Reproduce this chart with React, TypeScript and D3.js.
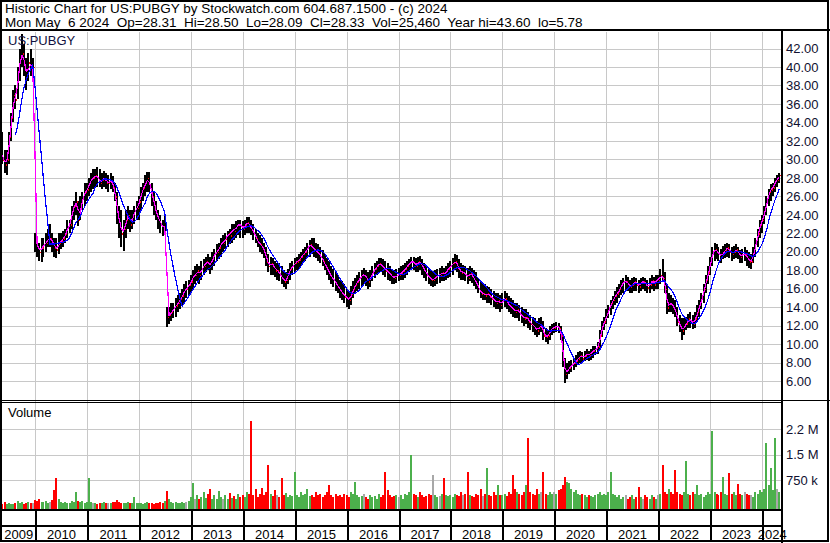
import * as d3 from 'd3';
import { useEffect, useRef } from 'react';

const TITLE = 'Historic Chart for US:PUBGY by Stockwatch.com 604.687.1500 - (c) 2024';
const SUBTITLE =
  'Mon May  6 2024  Op=28.31  Hi=28.50  Lo=28.09  Cl=28.33  Vol=25,460  Year hi=43.60  lo=5.78';
const SYMBOL = 'US:PUBGY';

// one bar per half month (1st and 16th), starting May 1 2009
const FIRST_YEAR = 2009;
const FIRST_MONTH = 4;

// prettier-ignore
const high = [
  33, 33, 31, 31, 33, 35, 37.5, 38, 40, 42, 43.6, 42.5, 41, 41.5, 42, 41,
  22, 21.5, 21, 21.5, 21.5, 22, 22.5, 23, 22, 21.5, 21.5, 22, 22, 22.3, 22.5, 23.5, 23.5, 25, 25.5, 26.5, 25.5, 26, 26.5, 27.5,
  27.5, 28, 28.5, 29, 29, 29.2, 29, 28.5, 28.7, 28.5, 28.3, 28.5, 28.2, 27.5, 26.5, 25, 24.5, 23.5, 24.5, 25, 24.5, 24.5, 25, 25.5,
  26, 27, 27.5, 28.3, 28.6, 28.6, 27.5, 26.5, 25.5, 24.5, 24, 23.5, 24, 14, 14, 14.5, 14.5, 15, 15.3, 15.5, 16, 16.5, 16.8, 17,
  17.5, 18, 18.5, 18.7, 18.5, 19, 19.2, 19.5, 19.8, 19.5, 20, 20.3, 20.8, 21, 21.5, 21.8, 22, 22.3, 22.5, 23, 23, 23.3, 23.5, 23.5,
  23.3, 23.5, 23.8, 23.8, 23.5, 23, 22.5, 22, 21.8, 21.5, 21, 20.5, 19.8, 19.5, 19.3, 19, 18.8, 18.8, 18.5, 18, 17.8, 18.2, 18.8, 19,
  19.3, 19.5, 19.8, 20, 20.3, 20.5, 21, 21.3, 21.5, 21.5, 21, 20.8, 20.5, 20.2, 19.8, 19.3, 19, 18.5, 18.2, 17.8, 17.5, 17, 16.8, 16.5,
  16, 15.8, 16.3, 16.8, 17.2, 17.5, 17.8, 18, 18.3, 18, 17.8, 18, 18.5, 18.8, 19, 19.3, 19.3, 19.2, 19, 18.8, 18.5, 18.2, 18, 18.2,
  18.3, 18.5, 18.6, 18.8, 19, 19.2, 19.5, 19.5, 19.3, 19.5, 19.6, 19.2, 18.8, 18.5, 18.2, 18, 17.8, 18, 18.2, 18.3, 18.5, 18.3, 18.5, 18.8,
  19, 19.3, 19.8, 19.7, 19.2, 18.8, 18.6, 18.5, 18.3, 18.5, 18.3, 18, 17.8, 17.2, 16.8, 16.5, 16.5, 16.3, 16.2, 16, 15.8, 15.5, 15.5, 15.3,
  15.5, 15.8, 15.5, 15.2, 15, 14.8, 14.5, 14.5, 14.3, 14, 13.8, 13.8, 13.5, 13.2, 13, 12.8, 12.5, 12.8, 13, 12.5, 11.8, 11.5, 12, 12.2,
  12.3, 12.4, 12.3, 12, 11, 8.5, 8, 8.2, 8.3, 8.5, 8.8, 9.2, 9.3, 9.2, 9.3, 9.5, 9.3, 9.5, 9.8, 9.8, 10.2, 11.5, 12.5, 13,
  13.8, 14.2, 14.8, 15.2, 15.8, 16.2, 16.5, 17, 17.2, 17.5, 17.3, 17, 17.2, 17.3, 17.2, 17, 17.2, 17.3, 17.2, 17, 17.2, 17.5, 17.3, 17.5,
  17.5, 18.2, 19.2, 17.8, 16.5, 15.5, 15.3, 15, 14.8, 14, 13.2, 12.8, 12.8, 13, 13.3, 13.5, 13.2, 13.5, 14.2, 14.8, 15.5, 16.5, 17.5, 18.5,
  19.5, 20.5, 21, 20.8, 20.5, 20.3, 20.6, 20.8, 21, 20.8, 20.5, 20.6, 20.8, 20.5, 20.2, 20.3, 20.5, 20.2, 20, 19.8, 20.5, 21.5, 22.5, 23.5,
  24, 25, 26, 26.8, 27.3, 27.5, 28, 28.3, 28.5,
];

// prettier-ignore
const low = [
  30, 29.5, 28.5, 28.3, 29.5, 32, 34, 35.5, 36.5, 38.5, 40, 39, 37.5, 38.5, 39, 38.5,
  20, 19.5, 19, 18.9, 19.5, 20, 20.5, 20.5, 20, 19.5, 19.3, 19.8, 20.3, 20.5, 21, 21.5, 22, 22.5, 23.5, 24, 22.8, 23.5, 24.5, 25,
  25.5, 26, 26.5, 26.8, 27, 27, 27, 26.8, 27, 26.8, 26.5, 26.8, 26.5, 25.5, 23, 21.5, 20.5, 20.1, 21.5, 22.5, 22.2, 22.5, 23, 23.5,
  23.5, 24.5, 25.5, 26, 26.5, 26.5, 25, 24, 23.5, 22.5, 22, 21.7, 22, 11.9, 12.2, 12.5, 12.8, 13, 13.5, 13.8, 14.2, 14.5, 15, 15.2,
  15.5, 16, 16.5, 16.8, 16.5, 17, 17.5, 17.8, 18, 17.6, 18, 18.5, 19, 19.2, 19.5, 20, 20.3, 20.5, 20.8, 21, 21.3, 21.5, 21.8, 21.5,
  21.5, 21.8, 22, 22, 21.8, 21.3, 21, 20.5, 20, 19.8, 19.3, 18.5, 17.8, 17.5, 17.5, 17.3, 17, 16.8, 16.5, 16.2, 16, 16.5, 17, 17.5,
  17.8, 18, 18.2, 18.5, 18.8, 19, 19.3, 19.5, 19.8, 19.5, 19.3, 19, 18.8, 18.5, 18, 17.5, 17, 16.5, 16.2, 15.8, 15.5, 15, 14.8, 14.5,
  14, 13.8, 14.3, 15, 15.5, 15.8, 16, 16.3, 16.5, 16.3, 16, 16.2, 16.8, 17.2, 17.5, 17.8, 17.8, 17.5, 17.3, 17, 16.8, 16.5, 16.5, 16.6,
  16.8, 17, 17, 17.2, 17.5, 17.8, 18, 18, 17.8, 17.8, 18, 17.5, 17.2, 16.8, 16.5, 16.3, 16.2, 16.3, 16.5, 16.6, 16.8, 16.8, 17, 17.2,
  17.3, 17.5, 18, 17.8, 17.2, 17, 17, 16.8, 16.5, 16.8, 16.6, 16.3, 16, 15.5, 15, 14.8, 14.8, 14.5, 14.5, 14.3, 14, 13.8, 13.8, 13.5,
  13.8, 14, 13.8, 13.5, 13.3, 13, 12.8, 12.8, 12.5, 12.3, 12, 12.2, 11.8, 11.5, 11.3, 11, 10.8, 11, 11.3, 10.5, 10.2, 10, 10.5, 11,
  11.2, 11.3, 11.2, 10.5, 7.5, 5.78, 6.3, 6.8, 7, 7.2, 7.5, 7.8, 8, 8, 8.2, 8.3, 8.2, 8.3, 8.5, 8.8, 9, 9.5, 10.8, 11.5,
  12.2, 12.8, 13.2, 13.8, 14.2, 14.5, 15, 15.3, 15.5, 15.8, 15.8, 15.5, 15.6, 15.8, 15.8, 15.5, 15.8, 16, 15.8, 15.5, 15.6, 16, 15.8, 16,
  16, 16.5, 16.8, 15.5, 13.3, 13.5, 13.5, 13.3, 13, 12, 11.3, 10.5, 11, 11.5, 11.8, 11.8, 11.7, 11.8, 12.5, 13, 13.8, 14.5, 15.5, 16.5,
  17.5, 18.5, 19, 19.2, 19, 18.8, 19.2, 19.3, 19.5, 19.3, 19, 19.2, 19.3, 19.2, 18.8, 18.8, 19, 18.5, 18.3, 18.2, 18.8, 19.5, 20.5, 21.5,
  22, 23, 24, 25, 25.5, 26, 26.5, 27, 27.5,
];

// prettier-ignore
const close = [
  31, 30, 29.5, 30, 32.5, 34.5, 37, 36.5, 39.5, 41, 41.5, 40, 39, 40.5, 40, 40,
  21, 20.5, 20, 20.5, 20.8, 21, 21.5, 21.5, 21, 20.5, 20.3, 21, 21.2, 21.5, 22, 22.8, 23, 24.5, 25, 25.5, 23.5, 25, 26, 26.5,
  26.8, 27.5, 28, 28, 28.3, 28, 27.5, 27.8, 28, 27.5, 27.5, 27.8, 27, 26, 24, 23, 22, 22.5, 23.5, 24, 23, 23.8, 24.5, 24.8,
  25.5, 26.5, 27, 27.5, 28, 27, 26, 25, 24, 23.5, 23, 22.5, 23, 13, 13.2, 13.5, 14, 14.2, 14.5, 15, 15.3, 16, 16, 16.5,
  16.8, 17.5, 17.5, 18, 17.5, 18.3, 18.5, 19, 18.8, 18.5, 19.5, 19.8, 20, 20.5, 21, 21, 21.5, 22, 21.8, 22.5, 22.3, 22.8, 23, 22.8,
  22.5, 23, 23.2, 22.8, 22.5, 22, 21.5, 21, 20.8, 20.5, 20, 19, 18.5, 18.8, 18.5, 18, 18, 17.5, 17.2, 16.8, 17, 17.8, 18.2, 18.5,
  18.8, 19, 19.2, 19.5, 19.8, 20, 20.5, 20.8, 20.5, 20.3, 20, 19.8, 19.5, 19, 18.5, 18.2, 17.5, 17.2, 17, 16.5, 16.2, 15.8, 15.5, 15.2,
  15, 14.8, 15.5, 16, 16.5, 16.8, 17.2, 17.5, 17.5, 17.2, 16.8, 17.3, 17.8, 18.2, 18.5, 18.8, 18.5, 18.3, 18, 17.8, 17.5, 17.3, 17.2, 17.5,
  17.5, 17.8, 18, 18.2, 18.5, 18.8, 19, 18.8, 18.5, 19, 18.8, 18.3, 18, 17.5, 17.2, 17, 17, 17.3, 17.5, 17.5, 17.8, 17.5, 18, 18.2,
  18.5, 18.8, 19, 18.5, 18, 17.8, 17.8, 17.5, 17.2, 17.8, 17.3, 17, 16.5, 16, 15.5, 15.5, 15.3, 15.5, 15.2, 15, 14.8, 14.5, 14.8, 14.3,
  14.8, 15, 14.5, 14.2, 14, 13.8, 13.5, 13.8, 13.3, 13, 12.8, 13, 12.5, 12.3, 12, 11.8, 11.5, 12, 12, 11, 10.8, 11, 11.5, 11.8,
  11.8, 12, 11.8, 11, 8, 6.8, 7.3, 7.5, 7.8, 8, 8.3, 8.5, 8.8, 8.5, 8.8, 9, 8.8, 9.2, 9.3, 9.5, 9.8, 11, 12, 12.5,
  13.2, 13.8, 14.5, 14.8, 15.3, 15.5, 16, 16.5, 16.8, 16.8, 16.5, 16.3, 16.5, 16.8, 16.5, 16.3, 16.8, 16.8, 16.5, 16.2, 16.5, 17, 16.5, 17,
  17, 17.5, 17.2, 16, 14, 14.5, 14.3, 14, 13.5, 12.5, 12, 11.5, 12, 12.3, 12.8, 12.5, 12.3, 12.8, 13.5, 14.3, 15, 16, 17, 17.8,
  19, 20, 20.3, 20, 19.8, 19.5, 20, 20.2, 20.5, 20, 19.8, 20, 20.3, 19.8, 19.5, 19.8, 19.8, 19.3, 19, 19, 20, 21, 22, 23,
  23.5, 24.5, 25.5, 26.5, 26.8, 27, 27.8, 27.8, 28.33,
];

// thousands of shares, largest day in each half month
// prettier-ignore
const volume = [
  60, 45, 90, 50, 70, 40, 55, 80, 120, 60, 90, 50, 70, 100, 60, 80,
  150, 120, 180, 90, 110, 130, 80, 100, 150, 470, 820, 200, 90, 70, 110, 60, 80, 140, 100, 400, 120, 90, 130, 80,
  100, 820, 90, 60, 80, 50, 70, 60, 90, 70, 60, 80, 110, 90, 150, 100, 80, 60, 70, 90, 60, 80, 260, 70,
  60, 80, 50, 70, 90, 60, 80, 50, 70, 60, 90, 70, 120, 420, 180, 90, 70, 110, 60, 80, 90, 70, 100, 130,
  250, 650, 200, 300, 180, 250, 400, 220, 350, 480, 200, 300, 180, 420, 250, 200, 300, 180, 380, 220, 280, 200, 330, 250,
  300, 250, 400, 350, 2500, 300, 480, 250, 350, 520, 300, 400, 1200, 350, 280, 450, 300, 250, 820, 300, 380, 250, 300, 280,
  1000, 300, 250, 400, 300, 350, 500, 280, 300, 250, 400, 300, 350, 250, 300, 400, 600, 300, 250, 350, 280, 300, 250, 350,
  300, 250, 400, 350, 700, 300, 250, 280, 350, 250, 200, 300, 250, 280, 200, 350, 250, 300, 1000, 450, 300, 250, 280, 300,
  250, 300, 200, 350, 300, 400, 1500, 350, 300, 250, 400, 300, 250, 280, 350, 300, 900, 300, 250, 280, 350, 800, 300, 280,
  300, 250, 350, 300, 280, 400, 300, 350, 1000, 300, 280, 250, 350, 300, 500, 280, 350, 1100, 300, 280, 400, 300, 600, 300,
  300, 350, 280, 400, 350, 900, 500, 400, 350, 300, 400, 600, 2000, 400, 350, 300, 500, 350, 400, 1000, 350, 300, 400, 350,
  400, 350, 450, 500, 600, 850, 700, 650, 500, 400, 450, 350, 300, 350, 300, 250, 300, 280, 250, 300, 350, 400, 300, 350,
  300, 400, 1000, 350, 300, 250, 300, 200, 250, 300, 200, 250, 300, 200, 250, 550, 250, 200, 300, 250, 200, 300, 250, 200,
  300, 350, 1200, 400, 350, 500, 400, 350, 1050, 400, 350, 300, 400, 1300, 350, 300, 400, 350, 600, 300, 350, 250, 300, 400,
  350, 2200, 400, 350, 300, 400, 850, 350, 300, 950, 350, 400, 300, 620, 350, 300, 400, 350, 300, 320, 250, 400, 350, 450,
  400, 500, 1850, 600, 1100, 450, 2000, 500, 400,
];

const priceTicks = [6, 8, 10, 12, 14, 16, 18, 20, 22, 24, 26, 28, 30, 32, 34, 36, 38, 40, 42];
const volumeTicks = [750, 1500, 2250];
const volumeLabels = ['750 k', '1.5 M', '2.2 M'];
const years = [2009, 2010, 2011, 2012, 2013, 2014, 2015, 2016, 2017, 2018, 2019, 2020, 2021, 2022, 2023, 2024];

const FONT = '"Liberation Sans", Arial, sans-serif';

export default function App() {
  const ref = useRef<SVGSVGElement>(null);

  const width = 830;
  const height = 543;
  const plot = { left: 2, right: 782, top: 32, bottom: 400 };
  const vol = { top: 403, bottom: 509 };

  useEffect(() => {
    const svg = d3.select(ref.current);
    svg.selectAll('*').remove();

    const n = Math.min(high.length, low.length, close.length, volume.length);
    const bars = d3.range(n).map((i) => ({
      date: new Date(FIRST_YEAR, FIRST_MONTH + Math.floor(i / 2), i % 2 ? 16 : 1),
      hi: high[i],
      lo: low[i],
      cl: close[i],
      vol: volume[i],
      dir: i === 0 ? 1 : Math.sign(close[i] - close[i - 1]),
    }));

    const x = d3
      .scaleTime()
      .domain([new Date(2010, 0, 1), new Date(2024, 0, 1)])
      .range([35, 762]);
    const y = d3.scaleLinear().domain([6, 42]).range([381.3, 48.5]);
    const yVol = d3.scaleLinear().domain([0, 2250]).range([505.5, 429]);

    const sma = (len: number) =>
      bars.map((_, i) => (i < len - 1 ? null : d3.mean(bars.slice(i - len + 1, i + 1), (d) => d.cl)));
    const fast = sma(2);
    const slow = sma(8);

    svg.append('rect').attr('width', width).attr('height', height).attr('fill', '#fff');

    const defs = svg.append('defs');
    defs
      .append('clipPath')
      .attr('id', 'clip-price')
      .append('rect')
      .attr('x', plot.left)
      .attr('y', plot.top)
      .attr('width', plot.right - plot.left - 1)
      .attr('height', plot.bottom - plot.top);
    defs
      .append('clipPath')
      .attr('id', 'clip-vol')
      .append('rect')
      .attr('x', plot.left)
      .attr('y', vol.top)
      .attr('width', plot.right - plot.left - 1)
      .attr('height', vol.bottom - vol.top);

    // grid
    const yearX = years.slice(1).map((yr) => Math.round(x(new Date(yr, 0, 1))) + 0.5);
    const grid = svg.append('g').attr('stroke', '#c8c8c8').attr('stroke-width', 1);
    grid
      .selectAll('line.v')
      .data(yearX)
      .join('line')
      .attr('x1', (d) => d)
      .attr('x2', (d) => d)
      .attr('y1', plot.top)
      .attr('y2', vol.bottom);
    grid
      .selectAll('line.p')
      .data(priceTicks)
      .join('line')
      .attr('x1', plot.left)
      .attr('x2', plot.right)
      .attr('y1', (d) => Math.round(y(d)) + 0.5)
      .attr('y2', (d) => Math.round(y(d)) + 0.5);
    grid
      .selectAll('line.vt')
      .data(volumeTicks)
      .join('line')
      .attr('x1', plot.left)
      .attr('x2', plot.right)
      .attr('y1', (d) => Math.round(yVol(d)) + 0.5)
      .attr('y2', (d) => Math.round(yVol(d)) + 0.5);

    // price bars
    const price = svg.append('g').attr('clip-path', 'url(#clip-price)').attr('shape-rendering', 'crispEdges');
    price
      .selectAll('rect.bar')
      .data(bars)
      .join('rect')
      .attr('x', (d) => x(d.date) - 1)
      .attr('y', (d) => y(d.hi))
      .attr('width', 2)
      .attr('height', (d) => Math.max(1, y(d.lo) - y(d.hi)))
      .attr('fill', '#000');
    price
      .selectAll('rect.tick')
      .data(bars)
      .join('rect')
      .attr('x', (d) => x(d.date) + 1)
      .attr('y', (d) => y(d.cl))
      .attr('width', 1)
      .attr('height', 1.5)
      .attr('fill', '#ff0000');

    const line = d3
      .line<number | null>()
      .defined((d) => d != null)
      .x((_, i) => x(bars[i].date))
      .y((d) => y(d as number));

    price.append('path').attr('d', line(fast)).attr('fill', 'none').attr('stroke', '#ff00ff').attr('stroke-width', 1.2);
    price.append('path').attr('d', line(slow)).attr('fill', 'none').attr('stroke', '#0000ff').attr('stroke-width', 1.2);

    // volume bars
    const colour = (dir: number) => (dir > 0 ? '#4cb04c' : dir < 0 ? '#ff0000' : '#a8a8a8');
    svg
      .append('g')
      .attr('clip-path', 'url(#clip-vol)')
      .attr('shape-rendering', 'crispEdges')
      .selectAll('rect')
      .data(bars)
      .join('rect')
      .attr('x', (d) => x(d.date) - 1)
      .attr('y', (d) => yVol(d.vol))
      .attr('width', 2)
      .attr('height', (d) => vol.bottom - yVol(d.vol))
      .attr('fill', (d) => colour(d.dir));

    // frame
    const frame = svg.append('g').attr('stroke', '#000').attr('shape-rendering', 'crispEdges');
    frame.append('rect').attr('x', 1).attr('y', 1).attr('width', 827).attr('height', 540).attr('fill', 'none').attr('stroke-width', 2);
    frame.append('line').attr('x1', 0).attr('x2', width).attr('y1', 30).attr('y2', 30).attr('stroke-width', 2);
    frame.append('line').attr('x1', plot.right).attr('x2', plot.right).attr('y1', 30).attr('y2', height).attr('stroke-width', 2);
    frame.append('line').attr('x1', 0).attr('x2', width).attr('y1', 400.5).attr('y2', 400.5).attr('stroke-width', 1);
    frame.append('line').attr('x1', 0).attr('x2', plot.right).attr('y1', 402.5).attr('y2', 402.5).attr('stroke-width', 1);
    frame.append('line').attr('x1', 0).attr('x2', plot.right).attr('y1', 510).attr('y2', 510).attr('stroke-width', 2);
    frame.append('line').attr('x1', 0).attr('x2', plot.right).attr('y1', 526).attr('y2', 526).attr('stroke-width', 2);
    frame
      .selectAll('line.year')
      .data(yearX)
      .join('line')
      .attr('x1', (d) => d)
      .attr('x2', (d) => d)
      .attr('y1', 510)
      .attr('y2', 541)
      .attr('stroke-width', 2);

    // text
    const text = svg.append('g').attr('font-family', FONT).attr('font-size', 13).attr('fill', '#000');
    text.append('text').attr('x', 5).attr('y', 12.5).attr('font-size', 13.5).style('white-space', 'pre').text(TITLE);
    text.append('text').attr('x', 5).attr('y', 26.5).attr('font-size', 13.5).style('white-space', 'pre').text(SUBTITLE);
    text.append('text').attr('x', 8).attr('y', 45).attr('fill', '#101040').text(SYMBOL);
    text.append('text').attr('x', 8).attr('y', 417).text('Volume');

    text
      .selectAll('text.py')
      .data(priceTicks)
      .join('text')
      .attr('x', 786)
      .attr('y', (d) => y(d) + 4.6)
      .attr('fill', '#101030')
      .text((d) => d.toFixed(2));
    text
      .selectAll('text.vy')
      .data(volumeTicks)
      .join('text')
      .attr('x', 786)
      .attr('y', (d) => yVol(d) + 4.6)
      .attr('fill', '#101030')
      .text((_, i) => volumeLabels[i]);

    const bounds = [plot.left, ...yearX, plot.right];
    text
      .selectAll('text.yr')
      .data(years)
      .join('text')
      .attr('x', (_, i) => (bounds[i] + bounds[i + 1]) / 2)
      .attr('y', 539)
      .attr('text-anchor', 'middle')
      .text((d) => d);
  }, []);

  return (
    <svg
      ref={ref}
      width={width}
      height={height}
      style={{ position: 'absolute', left: 0, top: 0, display: 'block' }}
    ></svg>
  );
}
